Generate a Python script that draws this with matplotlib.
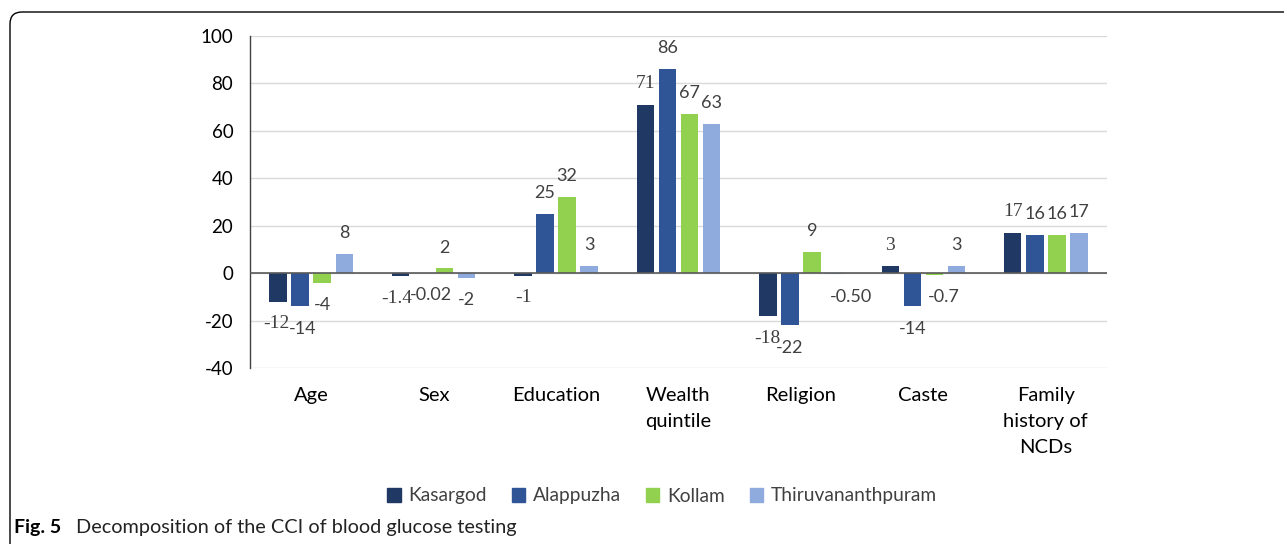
import matplotlib.pyplot as plt
import numpy as np
from matplotlib.patches import FancyBboxPatch, Patch

plt.rcParams['axes.unicode_minus'] = False

categories = ['Age', 'Sex', 'Education', 'Wealth\nquintile', 'Religion', 'Caste', 'Family\nhistory of\nNCDs']
districts = ['Kasargod', 'Alappuzha', 'Kollam', 'Thiruvananthpuram']
colors = ['#203864', '#2F5597', '#92D050', '#8FAADC']

kasargod = [-12, -1.4, -1, 71, -18, 3, 17]
alappuzha = [-14, -0.02, 25, 86, -22, -14, 16]
kollam = [-4, 2, 32, 67, 9, -0.7, 16]
thiruv = [8, -2, 3, 63, -0.5, 3, 17]

kasargod_lbl = ['-12', '-1.4', '-1', '71', '-18', '3', '17']
alappuzha_lbl = ['-14', '-0.02', '25', '86', '-22', '-14', '16']
kollam_lbl = ['-4', '2', '32', '67', '9', '-0.7', '16']
thiruv_lbl = ['8', '-2', '3', '63', '-0.50', '3', '17']

series = [kasargod, alappuzha, kollam, thiruv]
labels = [kasargod_lbl, alappuzha_lbl, kollam_lbl, thiruv_lbl]

# small sideways nudges (points) for crowded labels
nudge = {(3, 4): 12, (2, 5): 7, (1, 1): 6, (0, 0): -1, (1, 0): 2, (0, 1): -3}

fig = plt.figure(figsize=(12.84, 5.44), dpi=100)
ax = fig.add_axes([250/1284, 1-368/544, 857/1284, 332/544])

x = np.arange(len(categories))
pitch = 0.18
width = 0.143
for i in range(4):
    pos = x + (i - 1.5) * pitch
    ax.bar(pos, series[i], width, color=colors[i], zorder=3)
    if i == 0:
        fam, fs = ['Liberation Serif', 'DejaVu Serif'], 14
    else:
        fam, fs = ['Lato', 'DejaVu Sans'], 13
    for j in range(len(categories)):
        v = series[i][j]
        dy = 15 if v > 0 else -16
        dx = nudge.get((i, j), 0)
        ax.annotate(labels[i][j], (pos[j], v), xytext=(dx, dy), textcoords='offset points',
                    ha='center', va='center', fontsize=fs, color='#404040', family=fam)

ax.set_xlim(-0.5, 6.5)
ax.set_ylim(-40, 100)
ax.set_yticks(np.arange(-40, 101, 20))
ax.grid(axis='y', color='#D9D9D9', linewidth=1, zorder=0)
ax.axhline(0, color='#595959', linewidth=1.2, zorder=4)
for s in ['top', 'right', 'bottom']:
    ax.spines[s].set_visible(False)
ax.spines['left'].set_color('#404040')
ax.spines['left'].set_linewidth(1)
ax.set_xticks(x)
ax.set_xticklabels(categories, fontsize=14.5, family='Lato', linespacing=1.62, va='top')
ax.tick_params(axis='x', length=0, pad=14)
ax.tick_params(axis='y', length=0, pad=12, labelsize=13.5)
for t in ax.get_yticklabels():
    t.set_family('Lato')

handles = [Patch(color=c) for c in colors]
fig.legend(handles, districts, loc='center', bbox_to_anchor=(662/1284, 1-496/544), ncol=4,
           frameon=False, handlelength=0.7, handleheight=0.7, handletextpad=0.4,
           columnspacing=1.3, prop={'family': 'Lato', 'size': 13.8}, labelcolor='#404040')

frame = FancyBboxPatch((0.10, -1.0), 14.0, 6.32, boxstyle='round,pad=0,rounding_size=0.12',
                       transform=fig.dpi_scale_trans, fill=False, edgecolor='black', linewidth=1)
fig.add_artist(frame)

fig.text(14/1284, 1-528/544, 'Fig. 5', fontsize=14, fontweight='bold', family='Lato', va='center')
fig.text(76/1284, 1-528/544, 'Decomposition of the CCI of blood glucose testing', fontsize=14.3,
         family='Lato', va='center', color='#222222')

fig.savefig('out.png', dpi=100)
